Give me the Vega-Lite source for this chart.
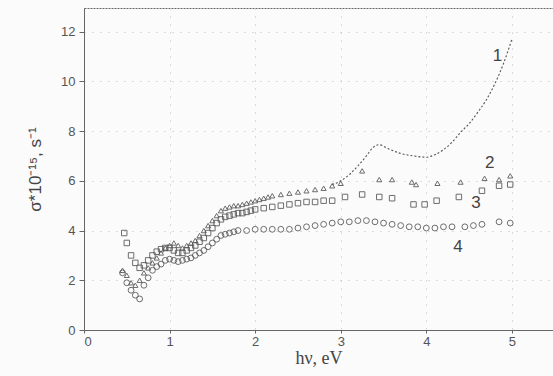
{
  "$schema": "https://vega.github.io/schema/vega-lite/v6.json",
  "autosize": "none",
  "width": 469,
  "height": 322,
  "padding": {"left": 84, "top": 8, "right": 0, "bottom": 46},
  "background": "#fbfbfb",
  "config": {
    "view": {"stroke": "#666", "strokeDash": [2, 1], "strokeWidth": 1},
    "axis": {"labelFont": "Liberation Sans", "labelFontSize": 13, "labelColor": "#555", "domainColor": "#666", "tickColor": "#666", "gridColor": "#bbb", "gridDash": [1, 7], "gridWidth": 1, "format": "d"}
  },
  "datasets": {
    "pts": [
      {"s": "2", "x": 0.45, "y": 2.4}, {"s": "2", "x": 0.5, "y": 2.2}, {"s": "2", "x": 0.55, "y": 1.9}, {"s": "2", "x": 0.6, "y": 1.8}, {"s": "2", "x": 0.65, "y": 2.0}, {"s": "2", "x": 0.7, "y": 2.3}, {"s": "2", "x": 0.75, "y": 2.5}, {"s": "2", "x": 0.8, "y": 2.7}, {"s": "2", "x": 0.85, "y": 2.9}, {"s": "2", "x": 0.9, "y": 3.1}, {"s": "2", "x": 0.95, "y": 3.3}, {"s": "2", "x": 1.0, "y": 3.4}, {"s": "2", "x": 1.05, "y": 3.5}, {"s": "2", "x": 1.1, "y": 3.4}, {"s": "2", "x": 1.15, "y": 3.3}, {"s": "2", "x": 1.2, "y": 3.4}, {"s": "2", "x": 1.25, "y": 3.5}, {"s": "2", "x": 1.3, "y": 3.6}, {"s": "2", "x": 1.35, "y": 3.8}, {"s": "2", "x": 1.4, "y": 4.0}, {"s": "2", "x": 1.45, "y": 4.2}, {"s": "2", "x": 1.5, "y": 4.4}, {"s": "2", "x": 1.55, "y": 4.6}, {"s": "2", "x": 1.6, "y": 4.8}, {"s": "2", "x": 1.65, "y": 4.9}, {"s": "2", "x": 1.7, "y": 4.95}, {"s": "2", "x": 1.75, "y": 5.0}, {"s": "2", "x": 1.8, "y": 5.0}, {"s": "2", "x": 1.85, "y": 5.05}, {"s": "2", "x": 1.9, "y": 5.1}, {"s": "2", "x": 1.95, "y": 5.15}, {"s": "2", "x": 2.0, "y": 5.2}, {"s": "2", "x": 2.05, "y": 5.25}, {"s": "2", "x": 2.1, "y": 5.3}, {"s": "2", "x": 2.15, "y": 5.35}, {"s": "2", "x": 2.2, "y": 5.4}, {"s": "2", "x": 2.3, "y": 5.45}, {"s": "2", "x": 2.4, "y": 5.5}, {"s": "2", "x": 2.5, "y": 5.55}, {"s": "2", "x": 2.6, "y": 5.6}, {"s": "2", "x": 2.7, "y": 5.65}, {"s": "2", "x": 2.8, "y": 5.7}, {"s": "2", "x": 2.9, "y": 5.8}, {"s": "2", "x": 3.0, "y": 5.9}, {"s": "2", "x": 3.25, "y": 6.4}, {"s": "2", "x": 3.45, "y": 6.05}, {"s": "2", "x": 3.6, "y": 6.05}, {"s": "2", "x": 3.83, "y": 5.95}, {"s": "2", "x": 3.88, "y": 5.85}, {"s": "2", "x": 4.13, "y": 5.9}, {"s": "2", "x": 4.4, "y": 5.95}, {"s": "2", "x": 4.68, "y": 6.1}, {"s": "2", "x": 4.85, "y": 6.05}, {"s": "2", "x": 4.98, "y": 6.2},
      {"s": "3", "x": 0.47, "y": 3.9}, {"s": "3", "x": 0.5, "y": 3.5}, {"s": "3", "x": 0.55, "y": 3.0}, {"s": "3", "x": 0.6, "y": 2.7}, {"s": "3", "x": 0.65, "y": 2.5}, {"s": "3", "x": 0.7, "y": 2.6}, {"s": "3", "x": 0.75, "y": 2.8}, {"s": "3", "x": 0.8, "y": 3.0}, {"s": "3", "x": 0.85, "y": 3.15}, {"s": "3", "x": 0.9, "y": 3.25}, {"s": "3", "x": 0.95, "y": 3.3}, {"s": "3", "x": 1.0, "y": 3.3}, {"s": "3", "x": 1.05, "y": 3.2}, {"s": "3", "x": 1.1, "y": 3.1}, {"s": "3", "x": 1.15, "y": 3.1}, {"s": "3", "x": 1.2, "y": 3.2}, {"s": "3", "x": 1.25, "y": 3.3}, {"s": "3", "x": 1.3, "y": 3.4}, {"s": "3", "x": 1.35, "y": 3.55}, {"s": "3", "x": 1.4, "y": 3.7}, {"s": "3", "x": 1.45, "y": 3.9}, {"s": "3", "x": 1.5, "y": 4.1}, {"s": "3", "x": 1.55, "y": 4.3}, {"s": "3", "x": 1.6, "y": 4.45}, {"s": "3", "x": 1.65, "y": 4.55}, {"s": "3", "x": 1.7, "y": 4.6}, {"s": "3", "x": 1.75, "y": 4.65}, {"s": "3", "x": 1.8, "y": 4.7}, {"s": "3", "x": 1.85, "y": 4.7}, {"s": "3", "x": 1.9, "y": 4.75}, {"s": "3", "x": 1.95, "y": 4.8}, {"s": "3", "x": 2.0, "y": 4.85}, {"s": "3", "x": 2.1, "y": 4.9}, {"s": "3", "x": 2.2, "y": 4.95}, {"s": "3", "x": 2.3, "y": 5.0}, {"s": "3", "x": 2.4, "y": 5.05}, {"s": "3", "x": 2.5, "y": 5.1}, {"s": "3", "x": 2.6, "y": 5.15}, {"s": "3", "x": 2.7, "y": 5.15}, {"s": "3", "x": 2.8, "y": 5.2}, {"s": "3", "x": 2.9, "y": 5.2}, {"s": "3", "x": 3.05, "y": 5.35}, {"s": "3", "x": 3.25, "y": 5.45}, {"s": "3", "x": 3.45, "y": 5.35}, {"s": "3", "x": 3.6, "y": 5.3}, {"s": "3", "x": 3.85, "y": 5.05}, {"s": "3", "x": 3.98, "y": 5.05}, {"s": "3", "x": 4.12, "y": 5.2}, {"s": "3", "x": 4.38, "y": 5.35}, {"s": "3", "x": 4.65, "y": 5.6}, {"s": "3", "x": 4.85, "y": 5.8}, {"s": "3", "x": 4.98, "y": 5.85},
      {"s": "4", "x": 0.45, "y": 2.3}, {"s": "4", "x": 0.5, "y": 1.9}, {"s": "4", "x": 0.55, "y": 1.6}, {"s": "4", "x": 0.6, "y": 1.4}, {"s": "4", "x": 0.65, "y": 1.25}, {"s": "4", "x": 0.7, "y": 1.8}, {"s": "4", "x": 0.75, "y": 2.1}, {"s": "4", "x": 0.8, "y": 2.4}, {"s": "4", "x": 0.85, "y": 2.55}, {"s": "4", "x": 0.9, "y": 2.65}, {"s": "4", "x": 0.95, "y": 2.8}, {"s": "4", "x": 1.0, "y": 2.85}, {"s": "4", "x": 1.05, "y": 2.8}, {"s": "4", "x": 1.1, "y": 2.75}, {"s": "4", "x": 1.15, "y": 2.8}, {"s": "4", "x": 1.2, "y": 2.85}, {"s": "4", "x": 1.25, "y": 2.9}, {"s": "4", "x": 1.3, "y": 3.0}, {"s": "4", "x": 1.35, "y": 3.1}, {"s": "4", "x": 1.4, "y": 3.2}, {"s": "4", "x": 1.45, "y": 3.35}, {"s": "4", "x": 1.5, "y": 3.5}, {"s": "4", "x": 1.55, "y": 3.65}, {"s": "4", "x": 1.6, "y": 3.8}, {"s": "4", "x": 1.65, "y": 3.85}, {"s": "4", "x": 1.7, "y": 3.9}, {"s": "4", "x": 1.75, "y": 3.95}, {"s": "4", "x": 1.8, "y": 4.0}, {"s": "4", "x": 1.9, "y": 4.0}, {"s": "4", "x": 2.0, "y": 4.05}, {"s": "4", "x": 2.1, "y": 4.05}, {"s": "4", "x": 2.2, "y": 4.05}, {"s": "4", "x": 2.3, "y": 4.05}, {"s": "4", "x": 2.4, "y": 4.05}, {"s": "4", "x": 2.5, "y": 4.1}, {"s": "4", "x": 2.6, "y": 4.15}, {"s": "4", "x": 2.7, "y": 4.2}, {"s": "4", "x": 2.8, "y": 4.25}, {"s": "4", "x": 2.9, "y": 4.3}, {"s": "4", "x": 3.0, "y": 4.35}, {"s": "4", "x": 3.1, "y": 4.35}, {"s": "4", "x": 3.2, "y": 4.4}, {"s": "4", "x": 3.3, "y": 4.4}, {"s": "4", "x": 3.4, "y": 4.35}, {"s": "4", "x": 3.5, "y": 4.3}, {"s": "4", "x": 3.6, "y": 4.25}, {"s": "4", "x": 3.7, "y": 4.2}, {"s": "4", "x": 3.8, "y": 4.15}, {"s": "4", "x": 3.9, "y": 4.15}, {"s": "4", "x": 4.0, "y": 4.1}, {"s": "4", "x": 4.1, "y": 4.1}, {"s": "4", "x": 4.2, "y": 4.15}, {"s": "4", "x": 4.3, "y": 4.15}, {"s": "4", "x": 4.45, "y": 4.15}, {"s": "4", "x": 4.55, "y": 4.2}, {"s": "4", "x": 4.65, "y": 4.25}, {"s": "4", "x": 4.85, "y": 4.35}, {"s": "4", "x": 4.98, "y": 4.3}
    ],
    "line1": [
      {"x": 2.9, "y": 5.85}, {"x": 3.0, "y": 6.0}, {"x": 3.1, "y": 6.25}, {"x": 3.2, "y": 6.6}, {"x": 3.3, "y": 7.0}, {"x": 3.38, "y": 7.35}, {"x": 3.45, "y": 7.45}, {"x": 3.55, "y": 7.3}, {"x": 3.7, "y": 7.1}, {"x": 3.85, "y": 7.0}, {"x": 4.0, "y": 6.95}, {"x": 4.1, "y": 7.05}, {"x": 4.2, "y": 7.25}, {"x": 4.3, "y": 7.55}, {"x": 4.4, "y": 7.95}, {"x": 4.5, "y": 8.3}, {"x": 4.6, "y": 8.75}, {"x": 4.7, "y": 9.25}, {"x": 4.8, "y": 9.9}, {"x": 4.9, "y": 10.7}, {"x": 5.0, "y": 11.7}
    ],
    "labels": [
      {"t": "1", "x": 4.83, "y": 11.0}, {"t": "2", "x": 4.74, "y": 6.7}, {"t": "3", "x": 4.58, "y": 5.1}, {"t": "4", "x": 4.37, "y": 3.35}
    ]
  },
  "layer": [
    {
      "data": {"name": "pts"},
      "mark": {"type": "point", "filled": false, "strokeWidth": 1, "opacity": 0.85},
      "encoding": {
        "x": {"field": "x", "type": "quantitative", "scale": {"domain": [0, 5.48], "nice": false}, "axis": {"values": [0, 1, 2, 3, 4, 5], "grid": true, "tickSize": 3, "labelPadding": 2, "title": "hν, eV", "titleFont": "Liberation Serif", "titleFontSize": 18, "titleFontWeight": "normal", "titleColor": "#444", "titlePadding": 1}},
        "y": {"field": "y", "type": "quantitative", "scale": {"domain": [0, 12.95], "nice": false}, "axis": {"values": [0, 2, 4, 6, 8, 10, 12], "grid": true, "tickSize": 5, "labelPadding": 4, "title": "σ*10⁻¹⁵, s⁻¹", "titleFont": "Liberation Sans", "titleFontSize": 17, "titleFontWeight": "normal", "titleColor": "#444", "titlePadding": 16}},
        "shape": {"field": "s", "type": "nominal", "scale": {"domain": ["2", "3", "4"], "range": ["triangle-up", "square", "circle"]}, "legend": null},
        "size": {"field": "s", "type": "nominal", "scale": {"domain": ["2", "3", "4"], "range": [26, 34, 55]}, "legend": null},
        "color": {"value": "#555"}
      }
    },
    {
      "data": {"name": "line1"},
      "mark": {"type": "line", "color": "#555", "strokeWidth": 1.1, "strokeDash": [2, 2], "interpolate": "monotone"},
      "encoding": {"x": {"field": "x", "type": "quantitative"}, "y": {"field": "y", "type": "quantitative"}}
    },
    {
      "data": {"name": "labels"},
      "mark": {"type": "text", "font": "Liberation Sans", "fontSize": 17, "color": "#444"},
      "encoding": {"x": {"field": "x", "type": "quantitative"}, "y": {"field": "y", "type": "quantitative"}, "text": {"field": "t"}}
    }
  ]
}
